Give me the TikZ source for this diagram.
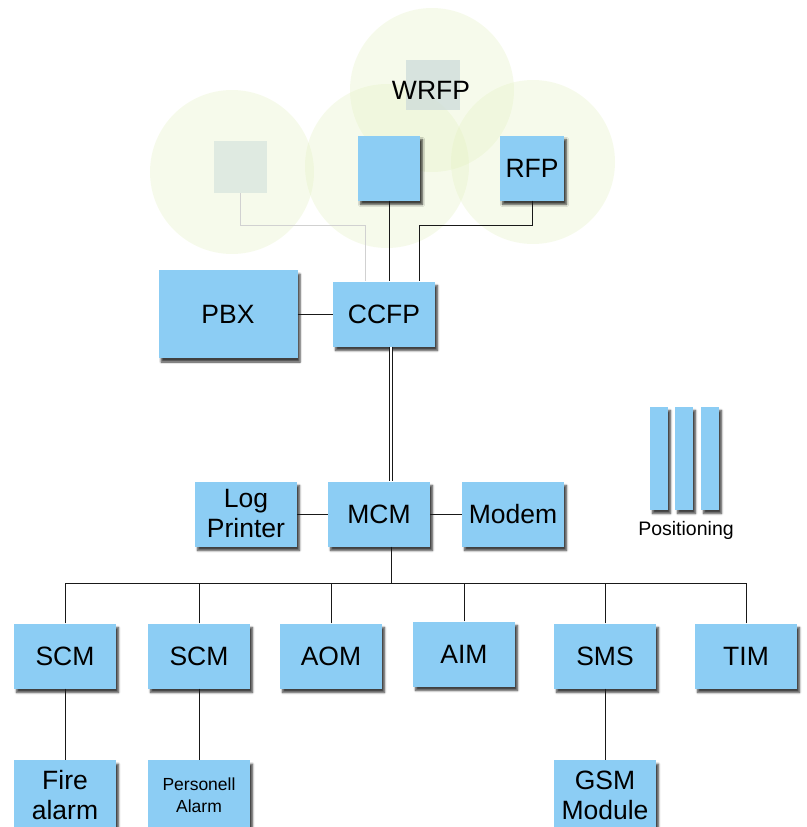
\documentclass[tikz,border=0pt]{standalone}
\usepackage{fontspec}
\setmainfont{Liberation Sans}
\usetikzlibrary{shapes, positioning, shadows.blur}

\definecolor{boxblue}{RGB}{140,205,244}
\definecolor{rangegreen}{RGB}{226,240,190}
\definecolor{ghostgrey}{RGB}{205,220,218}

\begin{document}
\begin{tikzpicture}[
  x=1pt, y=-1pt, % pixel grid of the original, y runs downwards
  module/.style={rectangle, fill=boxblue, minimum width=102pt, minimum height=65pt,
    align=center, font=\fontsize{26.5}{30}\selectfont,
    blur shadow={shadow xshift=2.5pt, shadow yshift=-4pt, shadow opacity=75, shadow blur steps=5, shadow blur radius=2pt}},
  ghost/.style={rectangle, fill=ghostgrey, opacity=.55, minimum width=53pt, minimum height=52pt},
  cellrange/.style={circle, fill=rangegreen, opacity=.3, minimum size=164pt},
  bar/.style={module, minimum width=18pt, minimum height=103pt},
  wire/.style={draw=black!90, line width=1pt},
  ghostwire/.style={draw=black!18, line width=.9pt}]

  \useasboundingbox (0,0) rectangle (806,827);

  % radio ranges
  \node[cellrange] (rangeL) at (232,172) {};
  \node[cellrange] (rangeM) at (387,166) {};
  \node[cellrange] (rangeW) at (432,90) {};
  \node[cellrange] (rangeR) at (533,162) {};

  % base stations
  \node[ghost] (ghostL) at (240,167) {};
  \node[ghost, minimum width=54pt, minimum height=50pt, opacity=.75] (wrfp) at (433,85) {};
  \node[font=\fontsize{26.5}{30}\selectfont] (wrfplabel) at (431,90) {WRFP};
  \node[module, minimum width=62pt] (ap) at (389,168) {};
  \node[module, minimum width=64pt] (rfp) at (532,168) {RFP};

  \node[module] (ccfp) at (384,314) {CCFP};
  \node[module, minimum width=139pt, minimum height=88pt] (pbx) at (228,314) {PBX};

  \node[module] (mcm) at (379,514) {MCM};
  \node[module] (log) at (246,514) {Log\\Printer};
  \node[module] (modem) at (513,514) {Modem};

  % positioning
  \node[bar] (barA) at (659,458) {};
  \node[bar] (barB) at (684,458) {};
  \node[bar] (barC) at (710,458) {};
  \node[font=\fontsize{19.5}{22}\selectfont] (poslabel) at (686,530) {Positioning};

  % system modules
  \node[module] (scmA) at (65,656) {SCM};
  \node[module] (scmB) at (199,656) {SCM};
  \node[module] (aom) at (331,656) {AOM};
  \node[module] (aim) at (464,654) {AIM};
  \node[module] (sms) at (605,656) {SMS};
  \node[module] (tim) at (746,656) {TIM};

  \node[module, minimum height=70pt] (fire) at (65,795) {Fire\\alarm};
  \node[module, minimum height=70pt, font=\fontsize{17.5}{22}\selectfont] (personell) at (199,795) {Personell\\Alarm};
  \node[module, minimum height=70pt] (gsm) at (605,795) {GSM\\Module};

  % junctions
  \coordinate (jL) at (365,225);
  \coordinate (jR) at (419,225);
  \coordinate (bus) at (391,583);

  \draw[ghostwire] (ghostL.south) |- (jL) -- (jL |- ccfp.north);
  \draw[wire] (ap.south) -- (ap.south |- ccfp.north);
  \draw[wire] (rfp.south) |- (jR) -- (jR |- ccfp.north);
  \draw[wire] (pbx) -- (ccfp);
  \draw[wire, double, double distance=2.5pt] ([xshift=7pt]ccfp.south) -- ([xshift=7pt]ccfp.south |- mcm.north);
  \draw[wire] (log) -- (mcm);
  \draw[wire] (mcm) -- (modem);
  \draw[wire] ([xshift=12pt]mcm.south) -- (bus);
  \foreach \m in {scmA, scmB, aom, aim, sms, tim}
    \draw[wire] (\m.north) |- (bus);
  \draw[wire] (scmA) -- (fire);
  \draw[wire] (scmB) -- (personell);
  \draw[wire] (sms) -- (gsm);
\end{tikzpicture}
\end{document}
